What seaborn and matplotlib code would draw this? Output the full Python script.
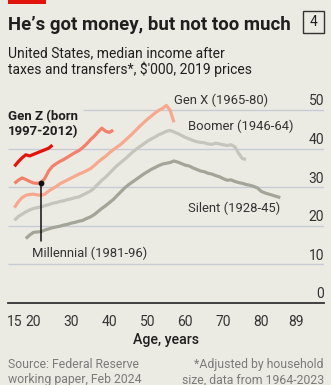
import numpy as np
import pandas as pd
import matplotlib
matplotlib.use("Agg")
import matplotlib.pyplot as plt
import seaborn as sns
from matplotlib.patches import Rectangle

# ---------------- data ----------------
genz_age = list(range(15, 26))
genz_val = [35.4, 36.6, 37.6, 38.4, 38.1, 38.5, 38.9, 39.3, 39.7, 40.1, 40.9]

mill_age = list(range(15, 42))
mill_val = [31.0, 31.8, 32.4, 32.0, 31.5, 31.1, 31.0, 31.2, 32.3, 34.2, 35.4, 36.1,
            36.7, 37.2, 37.8, 38.4, 39.0, 39.5, 40.3, 41.2, 42.3, 43.2, 44.3, 45.3,
            44.5, 44.2, 44.8]

genx_age = list(range(15, 58))
genx_val = [24.7, 26.2, 27.3, 27.9, 28.1, 28.2, 28.0, 27.9, 28.2, 29.0, 29.6, 30.2,
            30.9, 31.4, 31.9, 32.4, 32.9, 33.4, 33.8, 34.3, 34.8, 35.6, 36.5, 37.3,
            38.0, 38.9, 39.7, 40.4, 41.1, 42.0, 42.9, 43.8, 44.8, 45.8, 46.7, 47.6,
            48.4, 49.2, 49.9, 50.4, 51.2, 49.9, 46.8]

boom_age = list(range(15, 77))
boom_val = [21.4, 22.4, 23.0, 23.6, 24.1, 24.5, 24.7, 24.9, 25.2, 25.5, 25.8, 26.0,
            26.3, 26.5, 26.8, 27.0, 27.3, 27.5, 28.0, 28.5, 29.0, 29.8, 30.8, 31.8,
            32.6, 33.6, 34.6, 35.6, 36.4, 37.2, 38.1, 39.0, 39.8, 40.5, 41.2, 41.9,
            42.5, 43.0, 43.6, 44.0, 44.5, 44.7, 44.3, 43.9, 43.4, 42.9, 42.5, 42.1,
            41.8, 41.6, 41.5, 41.2, 41.1, 41.4, 41.2, 41.0, 40.8, 41.0, 40.5, 38.8,
            37.4, 37.2]

silent_age = list(range(18, 86))
silent_val = [16.7, 17.6, 18.3, 18.4, 18.5, 18.9, 19.2, 19.5, 19.7, 19.9, 20.2, 20.4,
              20.7, 20.9, 21.2, 21.4, 21.9, 22.3, 22.9, 23.7, 24.5, 25.2, 26.0, 26.8,
              27.8, 28.8, 29.8, 30.6, 31.3, 32.0, 32.7, 33.4, 34.0, 34.6, 35.1, 35.6,
              36.0, 36.2, 36.4, 36.8, 36.5, 36.1, 35.7, 35.5, 35.0, 34.6, 34.2, 34.0,
              33.6, 33.4, 33.0, 32.7, 32.2, 31.8, 31.9, 31.5, 31.2, 31.0, 30.7, 30.5,
              30.2, 29.8, 28.9, 28.5, 28.2, 27.9, 27.6, 27.3]

x_ticks = [15, 20, 25, 30, 35, 40, 45, 50, 55, 60, 65, 70, 75, 80, 85, 89]
x_labels = ["15", "20", "", "30", "", "40", "", "50", "", "60", "", "70", "", "80", "", "89"]
y_ticks = [0, 10, 20, 30, 40, 50]

marker_age = 22
marker_val = 31.2
marker_bottom = 16.0

# ---------------- styling ----------------
BG = "#ecebe3"
GRID = "#c6cbd6"
DARK = "#1f1f1f"
palette = {
    "Silent": "#a3a598",
    "Boomer": "#c6c5bd",
    "Gen X": "#f8a88f",
    "Millennial": "#f2806a",
    "Gen Z": "#e3120b",
}

frames = []
for name, a, v in [("Silent", silent_age, silent_val), ("Boomer", boom_age, boom_val),
                   ("Gen X", genx_age, genx_val), ("Millennial", mill_age, mill_val),
                   ("Gen Z", genz_age, genz_val)]:
    frames.append(pd.DataFrame({"age": a, "income": v, "gen": name}))
df = pd.concat(frames, ignore_index=True)

sns.set_style("white")
FONT = ["Roboto", "DejaVu Sans"]
plt.rcParams["font.family"] = FONT

W, H = 331, 385
fig = plt.figure(figsize=(W / 100, H / 100), dpi=100, facecolor=BG)

XMIN, XMAX = 13.3, 96.5
YTOP = 53.0
px_per_unit = 3.86
ax_left, ax_right = 8, 324
ax_bottom_px = 303
ax_top_px = ax_bottom_px - YTOP * px_per_unit
ax = fig.add_axes([ax_left / W, 1 - ax_bottom_px / H,
                   (ax_right - ax_left) / W, (ax_bottom_px - ax_top_px) / H])
ax.set_facecolor(BG)

# gridlines
for yv in y_ticks[1:]:
    xmin = 0.237 if yv == 50 else 0.0
    ax.axhline(yv, xmin=xmin, xmax=1, color=GRID, lw=1.0, zorder=0)

sns.lineplot(data=df, x="age", y="income", hue="gen", palette=palette,
             hue_order=["Silent", "Boomer", "Gen X", "Millennial", "Gen Z"],
             linewidth=2.3, legend=False, ax=ax, zorder=3)
for line in ax.get_lines():
    line.set_solid_capstyle("butt")

ax.set_xlim(XMIN, XMAX)
ax.set_ylim(0, YTOP)
for s in ["top", "left", "right"]:
    ax.spines[s].set_visible(False)
ax.spines["bottom"].set_color("#333333")
ax.spines["bottom"].set_linewidth(1.3)
ax.spines["bottom"].set_zorder(5)
ax.set_yticks([])
ax.set_xticks(x_ticks)
ax.set_xticklabels(x_labels)
ax.tick_params(axis="x", direction="out", length=4, width=1, color="#333333",
               pad=4.5, labelsize=10, labelcolor="#333333")
ax.set_xlabel("Age, years", fontsize=10.2, fontweight="medium", color=DARK, labelpad=3)
ax.set_ylabel("")

# y labels (right, above gridlines)
for yv in y_ticks:
    ax.text(XMAX, yv + 1.2, str(yv), ha="right", va="baseline", fontsize=10,
            color="#333333")

# marker line
ax.plot([marker_age, marker_age], [marker_bottom, marker_val], color="#111111", lw=1.1, zorder=4)
ax.plot([marker_age], [marker_val], "o", color="#111111", ms=3.2, zorder=6)

# series labels
LS = 9.4
ax.text(57.0, 52.5, "Gen X (1965-80)", fontsize=LS, color="#333333", va="center", ha="left")
ax.text(60.7, 45.7, "Boomer (1946-64)", fontsize=LS, color="#333333", va="center", ha="left")
ax.text(60.7, 24.5, "Silent (1928-45)", fontsize=LS, color="#333333", va="center", ha="left")
ax.text(19.7, 13.0, "Millennial (1981-96)", fontsize=LS, color="#333333", va="center", ha="left")
ax.text(XMIN, 46.3, "Gen Z (born\n1997-2012)", fontsize=9.5, fontweight="bold", color=DARK,
        va="center", ha="left", linespacing=1.2)

# header
fig.patches.append(Rectangle((8 / W, 1 - 3.5 / H), 38 / W, 3.5 / H, transform=fig.transFigure,
                             facecolor="#e3120b", edgecolor="none"))
fig.text(8 / W, 1 - 30 / H, "He\u2019s got money, but not too much", fontsize=13.4,
         fontweight="bold", color=DARK, ha="left", va="baseline")
fig.text(8 / W, 1 - 57 / H, "United States, median income after", fontsize=10,
         color=DARK, ha="left", va="baseline")
fig.text(8 / W, 1 - 74 / H, "taxes and transfers*, $'000, 2019 prices", fontsize=10,
         color=DARK, ha="left", va="baseline")
fig.patches.append(Rectangle((303 / W, 1 - 33 / H), 21 / W, 22 / H, transform=fig.transFigure,
                             facecolor="none", edgecolor="#333333", lw=1.0))
fig.text(313.5 / W, 1 - 22 / H, "4", fontsize=10, color=DARK, ha="center", va="center")

# footer
FS = 8.8
fig.text(8 / W, 1 - 368 / H, "Source: Federal Reserve", fontsize=FS, color="#7a7a7a",
         ha="left", va="baseline")
fig.text(8 / W, 1 - 383.5 / H, "working paper, Feb 2024", fontsize=FS, color="#7a7a7a",
         ha="left", va="baseline")
fig.text(324 / W, 1 - 368 / H, "*Adjusted by household", fontsize=FS, color="#7a7a7a",
         ha="right", va="baseline")
fig.text(324 / W, 1 - 383.5 / H, "size, data from 1964-2023", fontsize=FS, color="#7a7a7a",
         ha="right", va="baseline")

fig.savefig("out.png", dpi=100, facecolor=BG)
